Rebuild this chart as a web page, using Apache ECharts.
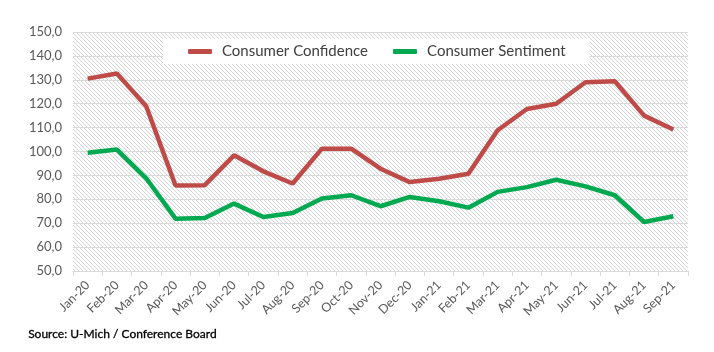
<!DOCTYPE html>
<html>
<head>
<meta charset="utf-8">
<script src="https://cdn.jsdelivr.net/npm/echarts@6/dist/echarts.min.js"></script>
<style>
  html, body { margin: 0; padding: 0; background: #fff; }
  #chart { width: 714px; height: 352px; }
</style>
</head>
<body>
<div id="chart"></div>
<script>
// data
const months = ['Jan-20', 'Feb-20', 'Mar-20', 'Apr-20', 'May-20', 'Jun-20', 'Jul-20', 'Aug-20', 'Sep-20', 'Oct-20', 'Nov-20', 'Dec-20',
  'Jan-21', 'Feb-21', 'Mar-21', 'Apr-21', 'May-21', 'Jun-21', 'Jul-21', 'Aug-21', 'Sep-21']
const confidence = [130.5, 132.6, 118.9, 85.8, 85.9, 98.4, 91.7, 86.6, 101.2, 101.2, 92.8, 87.2,
  88.6, 90.7, 108.9, 117.8, 120.0, 129.0, 129.4, 115.0, 109.2]
const sentiment = [99.5, 100.8, 88.8, 71.9, 72.2, 78.2, 72.6, 74.3, 80.3, 81.7, 77.1, 81.0,
  79.2, 76.5, 83.1, 85.1, 88.2, 85.4, 81.7, 70.5, 72.9]

// hatched plot background
function hatch() {
  const c = document.createElement('canvas')
  c.width = 4
  c.height = 4
  const ctx = c.getContext('2d')
  ctx.fillStyle = '#ffffff'
  ctx.fillRect(0, 0, 4, 4)
  ctx.strokeStyle = '#d4d4d4'
  ctx.lineWidth = 1
  ctx.beginPath()
  ctx.moveTo(-1, -1)
  ctx.lineTo(5, 5)
  ctx.moveTo(-1, 3)
  ctx.lineTo(1, 5)
  ctx.moveTo(3, -1)
  ctx.lineTo(5, 1)
  ctx.stroke()
  return c
}

const chart = echarts.init(document.getElementById('chart'))
chart.setOption({
  animation: false,
  textStyle: { fontFamily: 'Lato' },
  grid: {
    left: 73,
    right: 26,
    top: 32,
    bottom: 81,
    show: true,
    borderWidth: 0,
    backgroundColor: { image: hatch(), repeat: 'repeat' }
  },
  legend: {
    top: 39,
    left: 163,
    backgroundColor: '#ffffff',
    padding: [5, 24, 5, 25],
    itemGap: 25,
    itemWidth: 24,
    itemHeight: 5,
    icon: 'roundRect',
    textStyle: { fontSize: 15, color: '#404040', padding: [0, 0, 0, 5] },
    data: ['Consumer Confidence', 'Consumer Sentiment']
  },
  xAxis: {
    type: 'category',
    data: months,
    boundaryGap: true,
    axisLine: { lineStyle: { color: '#d9d9d9' } },
    axisTick: { show: true, length: 5, lineStyle: { color: '#d9d9d9' } },
    axisLabel: { rotate: 45, color: '#595959', fontSize: 12.5, margin: 12, interval: 0 },
    splitLine: { show: false }
  },
  yAxis: {
    type: 'value',
    min: 50,
    max: 150,
    interval: 10,
    axisLine: { show: false },
    axisTick: { show: false },
    axisLabel: {
      color: '#595959',
      fontSize: 13,
      margin: 11,
      formatter: v => v.toFixed(1).replace('.', ',')
    },
    splitLine: { lineStyle: { color: '#d9d9d9', width: 1 } }
  },
  graphic: [{
    type: 'text',
    left: 28,
    top: 328,
    style: { text: 'Source: U-Mich / Conference Board', font: '12px Lato', fill: '#000', stroke: '#000', lineWidth: 0.3 }
  }],
  series: [
    {
      name: 'Consumer Confidence',
      type: 'line',
      data: confidence,
      symbol: 'none',
      color: '#be4b48',
      lineStyle: { width: 4.5, color: '#be4b48' }
    },
    {
      name: 'Consumer Sentiment',
      type: 'line',
      data: sentiment,
      symbol: 'none',
      color: '#00a94f',
      lineStyle: { width: 4.5, color: '#00a94f' }
    }
  ]
})
</script>
</body>
</html>
